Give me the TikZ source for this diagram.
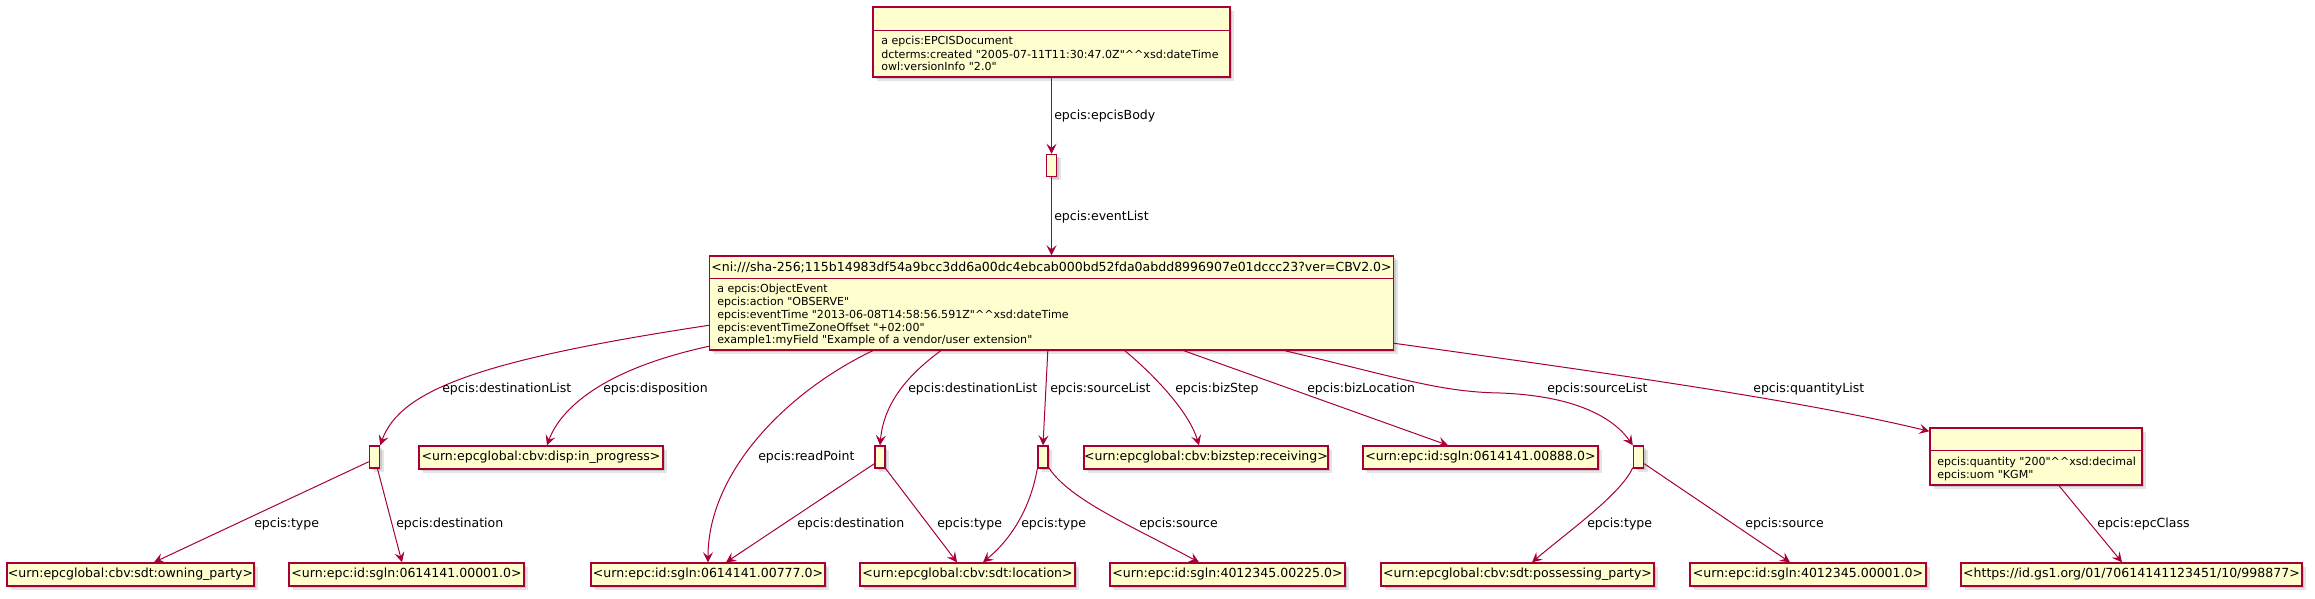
\documentclass[tikz,border=0pt]{standalone}
\usepackage{fontspec}
\setmainfont{DejaVu Sans}[Ligatures=TeXOff]
\usetikzlibrary{arrows.meta,shadows,calc}
\definecolor{pumlred}{RGB}{168,0,54}
\definecolor{pumlfill}{RGB}{254,254,206}
\newcommand{\cc}{\textasciicircum\textasciicircum}
\begin{document}
\begin{tikzpicture}[x=0.75pt,y=-0.75pt,
  bw/.style={minimum width=#1*0.75pt},
  bh/.style={minimum height=#1*0.75pt},
  shadowed/.style={
    drop shadow={shadow xshift=3pt,shadow yshift=-3pt,opacity=0.10,fill=black},
    drop shadow={shadow xshift=1.8pt,shadow yshift=-1.8pt,opacity=0.12,fill=black}},
  box/.style={draw=pumlred, fill=pumlfill, line width=1.05pt, inner sep=0pt, bh=23, shadowed},
  lit/.style={box, font=\fontsize{9.4pt}{11pt}\selectfont},
  blank/.style={box, bw=10, bh=22},
  sep/.style={draw=pumlred, line width=1.05pt},
  edge/.style={draw=pumlred, line width=0.75pt, -{Stealth[length=7.5pt,width=7.5pt,inset=3pt]}},
  lab/.style={font=\fontsize{9.4pt}{11pt}\selectfont, inner sep=0pt, anchor=west},
  body/.style={font=\fontsize{8.3pt}{9.6pt}\selectfont, inner sep=0pt, anchor=west},
]
\fill[white] (0,0) rectangle (2315,599);
\useasboundingbox (0,0) rectangle (2315,599);

% ---------- top document box ----------
\node[box, bw=357, bh=70] (doc) at (1051.5,42) {};
\draw[sep] ($(doc.north west)+(0,24)$) -- ($(doc.north east)+(0,24)$);
\node[body] (doct1) at (881,41.5) {a epcis:EPCISDocument};
\node[body] (doct2) at (881,54) {dcterms:created "2005-07-11T11:30:47.0Z"\cc xsd:dateTime};
\node[body] (doct3) at (881,66) {owl:versionInfo "2.0"};

\node[blank] (b0) at (1051.5,165.5) {};

% ---------- main event box ----------
\node[box, bw=684, bh=94] (ev) at (1051.5,303) {};
\draw[sep] ($(ev.north west)+(0,23)$) -- ($(ev.north east)+(0,23)$);
\node[lab, anchor=center] (evh) at (1051.5,267) {<ni:///sha-256;115b14983df54a9bcc3dd6a00dc4ebcab000bd52fda0abdd8996907e01dccc23?ver=CBV2.0>};
\node[body] (evt1) at (717,289) {a epcis:ObjectEvent};
\node[body] (evt2) at (717,302) {epcis:action "OBSERVE"};
\node[body] (evt3) at (717,315) {epcis:eventTime "2013-06-08T14:58:56.591Z"\cc xsd:dateTime};
\node[body] (evt4) at (717,328) {epcis:eventTimeZoneOffset "+02:00"};
\node[body] (evt5) at (717,340) {example1:myField "Example of a vendor/user extension"};

% ---------- middle row ----------
\node[blank] (b1) at (374.5,457) {};
\node[lit, bw=244] (disp) at (541,457.5) {<urn:epcglobal:cbv:disp:in\_progress>};
\node[blank] (b2) at (880,457) {};
\node[blank] (b3) at (1043,457) {};
\node[lit, bw=244] (bizstep) at (1206,457.5) {<urn:epcglobal:cbv:bizstep:receiving>};
\node[lit, bw=235] (bizloc) at (1480.5,457.5) {<urn:epc:id:sgln:0614141.00888.0>};
\node[blank] (b4) at (1638.5,457) {};
\node[box, bw=212, bh=57] (qty) at (2036,456.5) {};
\draw[sep] ($(qty.north west)+(0,23)$) -- ($(qty.north east)+(0,23)$);
\node[body] (qt1) at (1937,462) {epcis:quantity "200"\cc xsd:decimal};
\node[body] (qt2) at (1937,475) {epcis:uom "KGM"};

% ---------- bottom row ----------
\node[lit, bw=247] (owning) at (130.5,574.5) {<urn:epcglobal:cbv:sdt:owning\_party>};
\node[lit, bw=235] (d1) at (406.5,574.5) {<urn:epc:id:sgln:0614141.00001.0>};
\node[lit, bw=234] (rp) at (708,574.5) {<urn:epc:id:sgln:0614141.00777.0>};
\node[lit, bw=215] (loc) at (967.5,574.5) {<urn:epcglobal:cbv:sdt:location>};
\node[lit, bw=235] (s225) at (1227.5,574.5) {<urn:epc:id:sgln:4012345.00225.0>};
\node[lit, bw=273] (poss) at (1517.5,574.5) {<urn:epcglobal:cbv:sdt:possessing\_party>};
\node[lit, bw=236] (s001) at (1808,574.5) {<urn:epc:id:sgln:4012345.00001.0>};
\node[lit, bw=341] (gs1) at (2131.5,574.5) {<https://id.gs1.org/01/70614141123451/10/998877>};

% ---------- connectors ----------
\draw[edge] (doc.south) -- (b0.north);
\draw[edge] (b0.south) -- (ev.north);

\draw[edge] ($(ev.north west)+(0,70)$) .. controls (480,360) and (400,390) .. (b1.north east);
\draw[edge] ($(ev.north west)+(0,91)$) .. controls (600,370) and (560,410) .. ($(disp.north)+(6,0)$);
\draw[edge] ($(ev.south west)+(164,0)$) .. controls (790,390) and (708,470) .. (rp.north);
\draw[edge] ($(ev.south west)+(232,0)$) .. controls (912,372) and (884,400) .. (b2.north);
\draw[edge] ($(ev.south west)+(339,0)$) -- (b3.north);
\draw[edge] ($(ev.south west)+(416,0)$) .. controls (1160,380) and (1190,415) .. ($(bizstep.north)+(-7,0)$);
\draw[edge] ($(ev.south west)+(475,0)$) -- ($(bizloc.north)+(-32.5,0)$);
\draw[edge] ($(ev.south west)+(576,0)$) .. controls (1400,378) and (1440,392) .. (1500,393) .. controls (1580,396) and (1615,420) .. (b4.north west);
\draw[edge] ($(ev.north east)+(0,88)$) .. controls (1600,372) and (1800,400) .. ($(qty.north west)+(0,4)$);

\draw[edge] ($(b1.south west)+(0,-7)$) -- ($(owning.north)+(23.5,0)$);
\draw[edge] ($(b1.south)+(3,0)$) -- ($(d1.north)+(-4.5,0)$);
\draw[edge] ($(b2.south west)+(0,-5)$) -- ($(rp.north)+(18,0)$);
\draw[edge] (b2.south east) -- ($(loc.north)+(-10.5,0)$);
\draw[edge] (b3.south west) .. controls (1030,510) and (1010,540) .. ($(loc.north)+(15.5,0)$);
\draw[edge] ($(b3.south east)+(0,-1)$) .. controls (1070,500) and (1130,525) .. ($(s225.north)+(-28.5,0)$);
\draw[edge] ($(b4.south west)+(0,-1)$) .. controls (1620,495) and (1570,530) .. ($(poss.north)+(14.5,0)$);
\draw[edge] ($(b4.south east)+(0,-5)$) -- ($(s001.north)+(-18,0)$);
\draw[edge] ($(qty.south)+(23,0)$) -- ($(gs1.north)+(-9.5,0)$);

% ---------- labels ----------
\node[lab] (l1) at (1054,116) {epcis:epcisBody};
\node[lab] (l2) at (1054,217) {epcis:eventList};
\node[lab] (l3) at (442,389) {epcis:destinationList};
\node[lab] (l4) at (603,389) {epcis:disposition};
\node[lab] (l5) at (758,457) {epcis:readPoint};
\node[lab] (l6) at (908,389) {epcis:destinationList};
\node[lab] (l7) at (1050,389) {epcis:sourceList};
\node[lab] (l8) at (1175,389) {epcis:bizStep};
\node[lab] (l9) at (1307,389) {epcis:bizLocation};
\node[lab] (l10) at (1547,389) {epcis:sourceList};
\node[lab] (l11) at (1753,389) {epcis:quantityList};
\node[lab] (l12) at (254,524) {epcis:type};
\node[lab] (l13) at (396,524) {epcis:destination};
\node[lab] (l14) at (797,524) {epcis:destination};
\node[lab] (l15) at (937,524) {epcis:type};
\node[lab] (l16) at (1021,524) {epcis:type};
\node[lab] (l17) at (1139,524) {epcis:source};
\node[lab] (l18) at (1587,524) {epcis:type};
\node[lab] (l19) at (1745,524) {epcis:source};
\node[lab] (l20) at (2097,524) {epcis:epcClass};
\end{tikzpicture}
\end{document}
